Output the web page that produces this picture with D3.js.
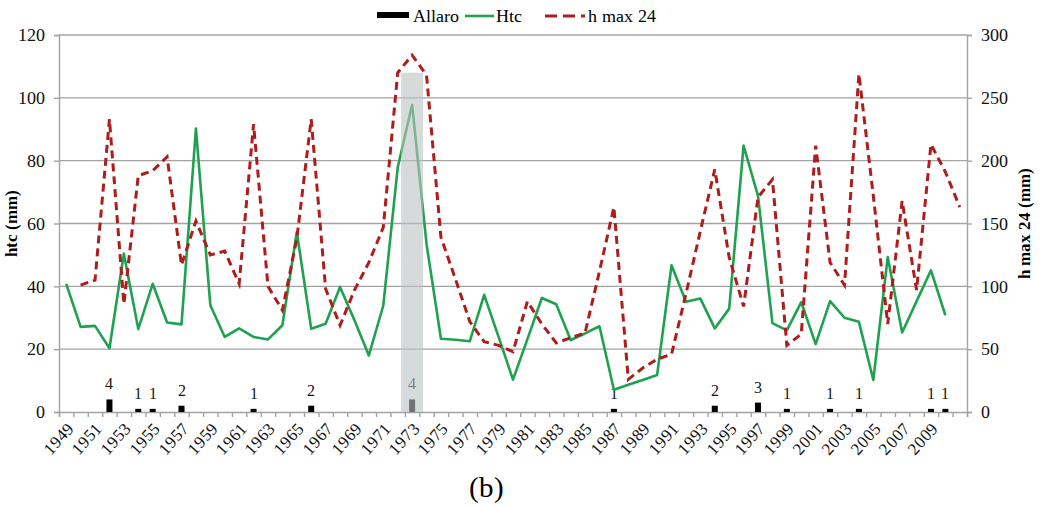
<!DOCTYPE html>
<html>
<head>
<meta charset="utf-8">
<script src="https://cdn.jsdelivr.net/npm/d3@7"></script>
<style>
  @font-face { font-family: 'ChartSerif'; src: local('Liberation Serif'), local('LiberationSerif'), local('LiberationSerif-Regular'); font-weight: normal; }
  @font-face { font-family: 'ChartSerif'; src: local('Liberation Serif Bold'), local('LiberationSerif-Bold'); font-weight: bold; }
  #chart text { font-family: 'ChartSerif', 'Liberation Serif', Tinos, serif; }
</style>
</head>
<body style="margin:0">
<svg id="chart" width="1041" height="507"></svg>
<script>
// categories: one per year
let years = d3.range(1949, 2012);

// Htc (left axis, mm), 1949-2010
let htc = [40.8, 27.1, 27.4, 20.3, 50.4, 26.4, 40.8, 28.5, 27.9, 90.2,
  34, 23.9, 26.6, 23.9, 23.1, 27.6, 57.3, 26.5, 28.1, 39.8,
  29.2, 18, 33.9, 77.8, 97.8, 53.5, 23.3, 23, 22.5, 37.3,
  23.9, 10.3, 23.2, 36.3, 34.3, 22.9, 25, 27.3, 7.1, 8.7,
  10.2, 11.8, 46.7, 35.1, 36.1, 26.6, 32.9, 84.8, 68.8, 28.3,
  26, 35, 21.6, 35.3, 30, 28.7, 10.2, 49.3, 25.3, 35.2,
  45.1, 30.8, null];

// h max 24 (right axis, mm), 1949-2011
let hmax = [null, 101, 105, 233, 86, 188, 192, 203, 117, 152,
  125, 128, 102, 229, 100, 81, 138, 233, 98, 69,
  97, 119, 147, 270, 284, 268, 139, 106, 72, 56,
  53, 48, 88, 70, 55, 59, 63, 112, 163, 26,
  35, 42, 46, 94, 144, 193, 123, 84, 171, 185,
  53, 62, 212, 119, 101, 269, 172, 70, 168, 97,
  213, 191, 163];

// Allaro events (count per year)
let allaroYears = [1952, 1954, 1955, 1957, 1962, 1966, 1973, 1987, 1994, 1997, 1999, 2002, 2004, 2009, 2010];
let allaroCounts = [4, 1, 1, 2, 1, 2, 4, 1, 2, 3, 1, 1, 1, 1, 1];

// year labels shown on the x axis
let yearLabels = [1949, 1951, 1953, 1955, 1957, 1959, 1961, 1963, 1965, 1967,
  1969, 1971, 1973, 1975, 1977, 1979, 1981, 1983, 1985, 1987,
  1989, 1991, 1993, 1995, 1997, 1999, 2001, 2003, 2005, 2007, 2009];

let highlightYear = 1973;
let highlightTop = 108;

let leftTicks = [0, 20, 40, 60, 80, 100, 120];
let rightTicks = [0, 50, 100, 150, 200, 250, 300];

let plotLeft = 59, plotRight = 967, plotTop = 35, plotBottom = 412;

let green = '#1fa24f';
let red = '#ae1c1c';
let gridColor = '#a3a3a3';

let svg = d3.select('#chart').style('display', 'block');

let xScale = d3.scaleBand().domain(years).range([plotLeft, plotRight]).padding(0);
let xEdge = d3.scaleLinear().domain([0, years.length]).range([plotLeft, plotRight]);
let yLeft = d3.scaleLinear().domain([0, 120]).range([plotBottom, plotTop]);
let yRight = d3.scaleLinear().domain([0, 300]).range([plotBottom, plotTop]);
let cx = y => xScale(y) + xScale.bandwidth() / 2;

// gridlines
svg.append('g').
selectAll('line').
data(leftTicks.filter(d => d > 0)).
enter().
append('line').
attr('x1', plotLeft).
attr('x2', plotRight).
attr('y1', d => yLeft(d)).
attr('y2', d => yLeft(d)).
attr('stroke', gridColor).
attr('stroke-width', 1.4);

let styleAxis = g => {
  g.attr('font-family', null);
  g.select('.domain').attr('stroke', gridColor).attr('stroke-width', 1.4);
  g.selectAll('.tick line').attr('stroke', gridColor).attr('stroke-width', 1.4);
  g.selectAll('text').attr('fill', '#111');
};

// left axis
let yAxisL = d3.axisLeft(yLeft).tickValues(leftTicks).tickSize(5).tickPadding(9);
let gl = svg.append('g').attr('transform', 'translate(' + plotLeft + ',0)').call(yAxisL);
styleAxis(gl);
gl.selectAll('text').style('font-size', '18px');

// right axis
let yAxisR = d3.axisRight(yRight).tickValues(rightTicks).tickSize(5).tickPadding(9);
let gr = svg.append('g').attr('transform', 'translate(' + plotRight + ',0)').call(yAxisR);
styleAxis(gr);
gr.selectAll('text').style('font-size', '18px');

// bottom axis: ticks at band edges
let xAxisEdges = d3.axisBottom(xEdge).tickValues(d3.range(0, years.length + 1)).tickSize(5).tickFormat('');
let gx = svg.append('g').attr('transform', 'translate(0,' + plotBottom + ')').call(xAxisEdges);
styleAxis(gx);

// bottom axis: labels every other year
let xAxisLabels = d3.axisBottom(xScale).tickValues(yearLabels).tickSize(0);
let gxl = svg.append('g').attr('transform', 'translate(0,' + plotBottom + ')').call(xAxisLabels);
styleAxis(gxl);
gxl.select('.domain').remove();
gxl.selectAll('text').
style('font-size', '17px').
attr('text-anchor', 'end').
attr('x', 0).
attr('y', 0).
attr('dy', '0.35em').
attr('transform', 'translate(4,13) rotate(-48)');

// Allaro bars
let barW = 6;
svg.append('g').
selectAll('rect').
data(allaroYears).
enter().
append('rect').
attr('x', d => cx(d) - barW / 2).
attr('width', barW).
attr('y', (d, i) => yLeft(allaroCounts[i])).
attr('height', (d, i) => yLeft(0) - yLeft(allaroCounts[i])).
attr('fill', '#000');

svg.append('g').
selectAll('text').
data(allaroYears).
enter().
append('text').
attr('x', d => cx(d)).
attr('y', (d, i) => yLeft(allaroCounts[i]) - 10).
attr('text-anchor', 'middle').
style('font-size', '16px').
attr('fill', '#111').
text((d, i) => allaroCounts[i]);

// Htc line
let htcLine = d3.line().
defined(d => d[1] !== null).
x(d => cx(d[0])).
y(d => yLeft(d[1]));

svg.append('path').
datum(years.map((y, i) => [y, htc[i]])).
attr('d', htcLine).
attr('fill', 'none').
attr('stroke', green).
attr('stroke-width', 2.6).
attr('stroke-linejoin', 'round');

// h max 24 line
let hmaxLine = d3.line().
defined(d => d[1] !== null).
x(d => cx(d[0])).
y(d => yRight(d[1]));

svg.append('path').
datum(years.map((y, i) => [y, hmax[i]])).
attr('d', hmaxLine).
attr('fill', 'none').
attr('stroke', red).
attr('stroke-width', 3).
attr('stroke-dasharray', '8,5');

// highlight band over 1973
svg.append('rect').
attr('x', cx(highlightYear) - 11).
attr('width', 22).
attr('y', yLeft(highlightTop)).
attr('height', yLeft(0) - yLeft(highlightTop)).
attr('fill', '#bcc1c1').
attr('opacity', 0.6);

// axis titles
svg.append('text').
attr('transform', 'translate(17,' + ((plotTop + plotBottom) / 2) + ') rotate(-90)').
attr('text-anchor', 'middle').
style('font-size', '17px').
style('font-weight', 'bold').
text('htc (mm)');

svg.append('text').
attr('transform', 'translate(1030,' + ((plotTop + plotBottom) / 2) + ') rotate(-90)').
attr('text-anchor', 'middle').
style('font-size', '17px').
style('font-weight', 'bold').
text('h max 24 (mm)');

// legend
let lg = svg.append('g');
lg.append('rect').attr('x', 377).attr('y', 12).attr('width', 32).attr('height', 6).attr('fill', '#000');
lg.append('text').attr('x', 413).attr('y', 22).style('font-size', '18px').text('Allaro');
lg.append('line').attr('x1', 465).attr('x2', 494).attr('y1', 16).attr('y2', 16).
attr('stroke', green).attr('stroke-width', 2.6);
lg.append('text').attr('x', 496).attr('y', 22).style('font-size', '18px').text('Htc');
lg.append('line').attr('x1', 545).attr('x2', 585).attr('y1', 16).attr('y2', 16).
attr('stroke', red).attr('stroke-width', 3).attr('stroke-dasharray', '12,6');
lg.append('text').attr('x', 588).attr('y', 22).style('font-size', '18px').text('h max 24');

// panel label
svg.append('text').
attr('x', 486).
attr('y', 497).
attr('text-anchor', 'middle').
style('font-size', '29px').
text('(b)');
</script>
</body>
</html>
